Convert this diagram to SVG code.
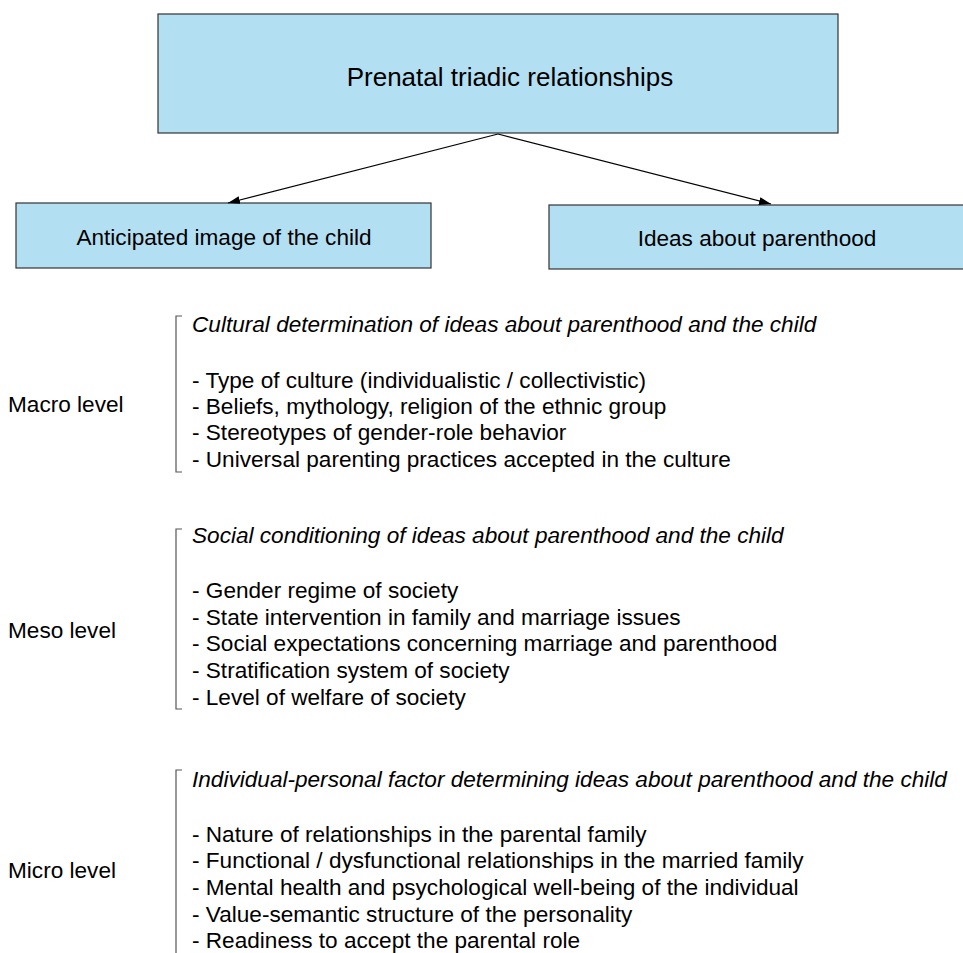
<svg xmlns="http://www.w3.org/2000/svg" width="963" height="953" viewBox="0 0 963 953">
<style>
.box{fill:#b3dff3;stroke:#333;stroke-width:1.2}
.t{font-family:"Liberation Sans",Arial,sans-serif;font-size:22.6px;fill:#000}
.i{font-style:italic}
.c{text-anchor:middle}
.br{fill:none;stroke:#555;stroke-width:1.2}
.ar{fill:none;stroke:#000;stroke-width:1.2}
</style>
<defs>
<marker id="ah" markerWidth="12" markerHeight="8" refX="12" refY="4" orient="auto" markerUnits="userSpaceOnUse">
<path d="M0,0 L12,4 L0,8 Z" fill="#000"/>
</marker>
</defs>
<rect width="963" height="953" fill="#fff"/>
<g id="n-top">
<rect class="box" x="158" y="14" width="680" height="119"/>
<text class="t c" x="510" y="86" style="font-size:26px">Prenatal triadic relationships</text>
</g>
<g id="n-child">
<rect class="box" x="16" y="203" width="415" height="65"/>
<text class="t c" x="224" y="245">Anticipated image of the child</text>
</g>
<g id="n-parent">
<rect class="box" x="549" y="205" width="420" height="64"/>
<text class="t c" x="757" y="246">Ideas about parenthood</text>
</g>
<g id="connectors">
<line class="ar" x1="498" y1="134" x2="228" y2="203" marker-end="url(#ah)"/>
<line class="ar" x1="498" y1="134" x2="771" y2="204" marker-end="url(#ah)"/>
</g>
<g id="macro">
<text class="t" x="8" y="412">Macro level</text>
<path class="br" d="M182,316 H176 V472 H182"/>
<text class="t i" x="192" y="332">Cultural determination of ideas about parenthood and the child</text>
<text class="t" x="192" y="388">- Type of culture (individualistic / collectivistic)</text>
<text class="t" x="192" y="414">- Beliefs, mythology, religion of the ethnic group</text>
<text class="t" x="192" y="440">- Stereotypes of gender-role behavior</text>
<text class="t" x="192" y="467">- Universal parenting practices accepted in the culture</text>
</g>
<g id="meso">
<text class="t" x="8" y="638">Meso level</text>
<path class="br" d="M182,529 H176 V709 H182"/>
<text class="t i" x="192" y="543">Social conditioning of ideas about parenthood and the child</text>
<text class="t" x="192" y="598">- Gender regime of society</text>
<text class="t" x="192" y="625">- State intervention in family and marriage issues</text>
<text class="t" x="192" y="651">- Social expectations concerning marriage and parenthood</text>
<text class="t" x="192" y="678">- Stratification system of society</text>
<text class="t" x="192" y="705">- Level of welfare of society</text>
</g>
<g id="micro">
<text class="t" x="8" y="878">Micro level</text>
<path class="br" d="M182,770 H176 V960"/>
<text class="t i" x="192" y="787">Individual-personal factor determining ideas about parenthood and the child</text>
<text class="t" x="192" y="842">- Nature of relationships in the parental family</text>
<text class="t" x="192" y="868">- Functional / dysfunctional relationships in the married family</text>
<text class="t" x="192" y="895">- Mental health and psychological well-being of the individual</text>
<text class="t" x="192" y="922">- Value-semantic structure of the personality</text>
<text class="t" x="192" y="948">- Readiness to accept the parental role</text>
</g>
</svg>
